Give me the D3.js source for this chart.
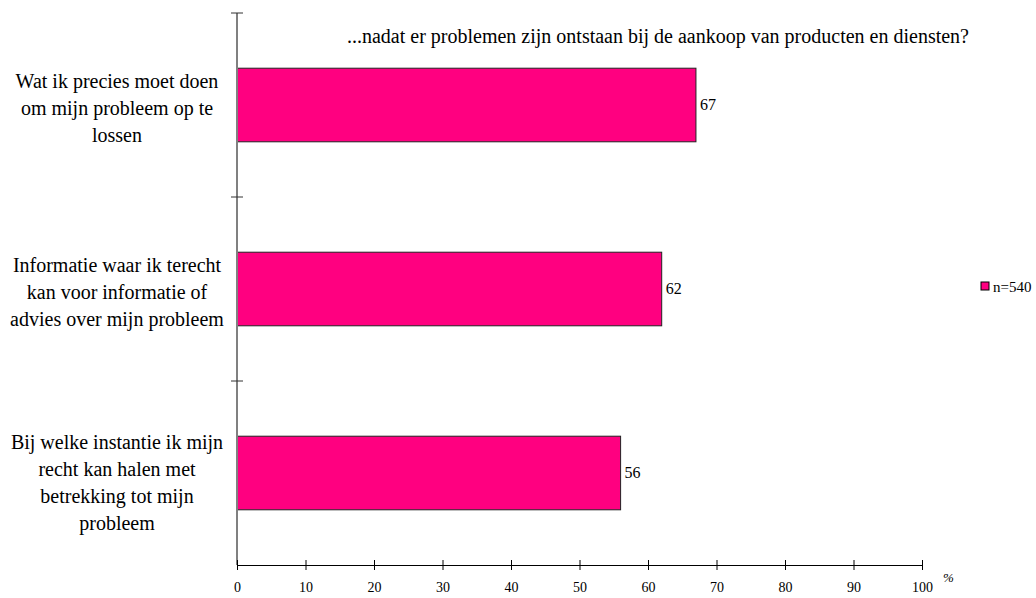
<!DOCTYPE html>
<html>
<head>
<meta charset="utf-8">
<script src="https://cdn.jsdelivr.net/npm/d3@7"></script>
<style>
  body { margin: 0; background: #fff; }
  svg { display: block; }
  svg text { font-family: "Liberation Serif", "DejaVu Serif", serif; }
</style>
</head>
<body>
<svg id="chart" width="1036" height="598"></svg>
<script>
const title = "...nadat er problemen zijn ontstaan bij de aankoop van producten en diensten?";
const categories = [
  ["Wat ik precies moet doen", "om mijn probleem op te", "lossen"],
  ["Informatie waar ik terecht", "kan voor informatie of", "advies over mijn probleem"],
  ["Bij welke instantie ik mijn", "recht kan halen met", "betrekking tot mijn", "probleem"]
];
const values = [67, 62, 56];
const seriesName = "n=540";
const xTicks = [0, 10, 20, 30, 40, 50, 60, 70, 80, 90, 100];
const unitLabel = "%";
const barColor = "#ff0080";

(function () {
const FONT = "Liberation Serif";
const svg = d3.select("#chart");
const pLeft = 237, pRight = 922, pTop = 13, pBottom = 565;

const x = d3.scaleLinear().domain([0, 100]).range([pLeft, pRight]);
const y = d3.scaleBand().domain(d3.range(categories.length)).range([pTop, pBottom]).paddingInner(0.6).paddingOuter(0.3);

// Bars
svg.append("g").selectAll("rect").data(values).join("rect")
  .attr("x", x(0))
  .attr("y", (d, i) => y(i))
  .attr("width", d => x(d) - x(0))
  .attr("height", y.bandwidth())
  .attr("fill", barColor)
  .attr("stroke", "#222")
  .attr("stroke-width", 1);

// Value labels
svg.append("g").selectAll("text").data(values).join("text")
  .attr("x", d => x(d) + 4)
  .attr("y", (d, i) => y(i) + y.bandwidth() / 2 + 5)
  .attr("font-family", FONT)
  .attr("font-size", 16)
  .attr("fill", "#000")
  .text(d => d);

// Y axis
const yAxisG = svg.append("g");
yAxisG.append("line")
  .attr("x1", pLeft).attr("x2", pLeft)
  .attr("y1", pTop).attr("y2", pBottom)
  .attr("stroke", "#808080").attr("stroke-width", 2);
const step = (pBottom - pTop) / categories.length;
const yBounds = d3.range(categories.length).map(i => pTop + i * step);
yAxisG.selectAll("line.tk").data(yBounds).join("line")
  .attr("class", "tk")
  .attr("x1", pLeft - 6).attr("x2", pLeft + 6)
  .attr("y1", d => d).attr("y2", d => d)
  .attr("stroke", "#333").attr("stroke-width", 1);

// X axis
const xAxis = d3.axisBottom(x).tickValues(xTicks).tickSize(5).tickSizeOuter(0).tickPadding(12);
const xg = svg.append("g").attr("transform", `translate(0,${pBottom})`).call(xAxis);
xg.attr("font-family", FONT);
xg.select(".domain").attr("stroke", "#000");
xg.selectAll(".tick line").attr("y1", -5).attr("y2", 5).attr("stroke", "#000");
xg.selectAll(".tick text").attr("font-size", 14).attr("font-family", FONT).attr("fill", "#000");

svg.append("text")
  .attr("x", x(100) + 21).attr("y", pBottom + 17)
  .attr("font-family", FONT)
  .attr("font-size", 13).attr("font-style", "italic")
  .text(unitLabel);

// Category labels
const lineH = 27;
const catG = svg.append("g");
categories.forEach((lines, i) => {
  const cy = y(i) + y.bandwidth() / 2;
  const n = lines.length;
  const t = catG.append("text")
    .attr("text-anchor", "middle")
    .attr("font-family", FONT)
    .attr("font-size", 20)
    .attr("fill", "#000");
  lines.forEach((ln, j) => {
    t.append("tspan")
      .attr("x", 117)
      .attr("y", cy + (j - (n - 1) / 2) * lineH + 9.5 + (n > 3 ? 7 : 0))
      .text(ln);
  });
});

// Title
svg.append("text")
  .attr("x", 658).attr("y", 43)
  .attr("text-anchor", "middle")
  .attr("font-family", FONT)
  .attr("font-size", 20)
  .text(title);

// Legend
const lg = svg.append("g").attr("transform", "translate(981,282)");
lg.append("rect").attr("width", 8).attr("height", 8)
  .attr("fill", barColor).attr("stroke", "#000").attr("stroke-width", 1);
lg.append("text").attr("x", 12).attr("y", 10)
  .attr("font-family", FONT)
  .attr("font-size", 15).text(seriesName);
})();
</script>
</body>
</html>
